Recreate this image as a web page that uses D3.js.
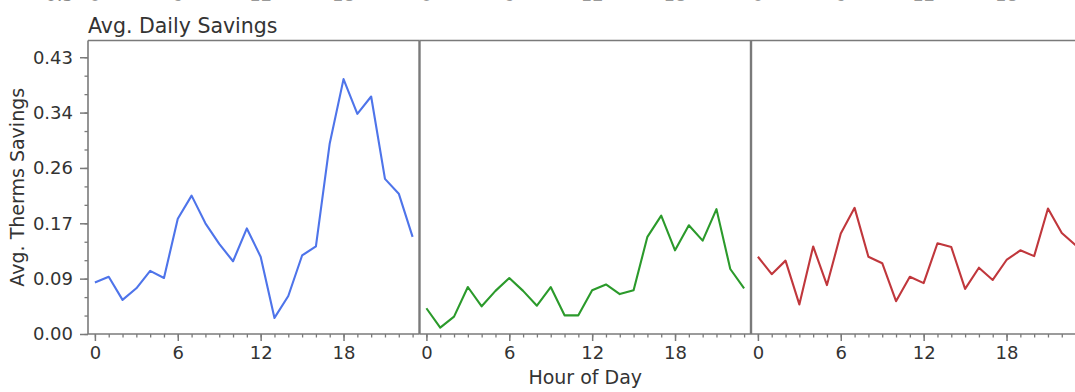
<!DOCTYPE html>
<html>
<head>
<meta charset="utf-8">
<script src="https://cdn.jsdelivr.net/npm/d3@7"></script>
<style>
  html, body { margin: 0; padding: 0; background: #fff; }
  svg { display: block; font-family: "DejaVu Sans", sans-serif; }
</style>
</head>
<body>
<svg id="chart" width="1075" height="392"></svg>
<script>
// ---- data ----
const hours = [0,1,2,3,4,5,6,7,8,9,10,11,12,13,14,15,16,17,18,19,20,21,22,23];
const blueSavings  = [0.080,0.089,0.053,0.071,0.098,0.087,0.179,0.215,0.172,0.140,0.113,0.164,0.120,0.025,0.059,0.122,0.136,0.296,0.396,0.342,0.369,0.241,0.218,0.151];
const greenSavings = [0.040,0.010,0.027,0.073,0.043,0.067,0.087,0.067,0.044,0.073,0.029,0.029,0.068,0.077,0.062,0.068,0.151,0.184,0.130,0.169,0.145,0.194,0.101,0.071];
const redSavings   = [0.120,0.093,0.114,0.046,0.136,0.076,0.156,0.196,0.120,0.110,0.051,0.089,0.079,0.141,0.135,0.070,0.103,0.084,0.115,0.130,0.121,0.195,0.157,0.138];
const seriesList = [blueSavings, greenSavings, redSavings];
const seriesColors = ["#4e74ea", "#2b9a2b", "#c0373c"];
const yTickValues = [0, 0.086, 0.172, 0.258, 0.344, 0.43];
const yTickLabels = ["0.00", "0.09", "0.17", "0.26", "0.34", "0.43"];
const xTickValues = [0, 6, 12, 18];
const chartTitle = "Avg. Daily Savings";
const xAxisTitle = "Hour of Day";
const yAxisTitle = "Avg. Therms Savings";
const clippedAboveLabel = "0.5";

// ---- layout ----
const svg = d3.select("#chart");
const plotTop = 40.5, plotBottom = 334;
const panelLefts = [88, 419.5, 751];
const panelWidth = 331.5;
const spine = "#7a7a7a";
const textColor = "#333";

const y = d3.scaleLinear().domain([0, 0.456]).range([plotBottom, plotTop]);

// remnants of the chart above (clipped at the top edge)
svg.append("text").attr("x", 74).attr("y", 1).attr("text-anchor", "end")
  .attr("font-size", 18).attr("fill", "#888").text(clippedAboveLabel);

panelLefts.forEach((px, i) => {
  const x = d3.scaleLinear().domain([-0.5, 23.5]).range([px, px + panelWidth]);

  // clipped tick labels of the chart above
  svg.append("g").selectAll("text").data(xTickValues).join("text")
    .attr("x", d => x(d)).attr("y", 1).attr("text-anchor", "middle")
    .attr("font-size", 18).attr("fill", "#999").text(d => d);

  // line
  const line = d3.line().x((d, j) => x(hours[j])).y(d => y(d));
  svg.append("path").datum(seriesList[i])
    .attr("fill", "none").attr("stroke", seriesColors[i])
    .attr("stroke-width", 2.1).attr("stroke-linejoin", "round")
    .attr("d", line);

  // x axis minor ticks
  const xMinor = d3.axisBottom(x).tickValues(hours).tickSize(3.5).tickFormat("");
  const gm = svg.append("g").attr("transform", `translate(0,${plotBottom})`).call(xMinor);
  gm.select(".domain").remove();
  gm.selectAll("line").attr("stroke", spine).attr("stroke-width", 1.3);

  // x axis major ticks
  const xMajor = d3.axisBottom(x).tickValues(xTickValues).tickSize(7).tickPadding(5).tickFormat(d3.format("d"));
  const gx = svg.append("g").attr("transform", `translate(0,${plotBottom})`).call(xMajor);
  gx.select(".domain").remove();
  gx.selectAll("line").attr("stroke", spine).attr("stroke-width", 1.5);
  gx.selectAll("text").attr("font-size", 18).attr("fill", textColor)
    .attr("font-family", "DejaVu Sans, sans-serif");

  // spines
  svg.append("line").attr("x1", px).attr("x2", px).attr("y1", plotTop).attr("y2", plotBottom)
    .attr("stroke", spine).attr("stroke-width", i === 0 ? 1.6 : 2.4);
  svg.append("line").attr("x1", px).attr("x2", px + panelWidth).attr("y1", plotTop).attr("y2", plotTop)
    .attr("stroke", spine).attr("stroke-width", 1.6);
  svg.append("line").attr("x1", px).attr("x2", px + panelWidth).attr("y1", plotBottom).attr("y2", plotBottom)
    .attr("stroke", spine).attr("stroke-width", 1.6);
});

// y axis minor ticks
const yMinorVals = d3.range(0, 16).map(k => k * 0.086 / 3).filter(v => v <= 0.456);
const gym = svg.append("g").attr("transform", `translate(${panelLefts[0]},0)`)
  .call(d3.axisLeft(y).tickValues(yMinorVals).tickSize(3.5).tickFormat(""));
gym.select(".domain").remove();
gym.selectAll("line").attr("stroke", spine).attr("stroke-width", 1.3);

// y axis major ticks
const gy = svg.append("g").attr("transform", `translate(${panelLefts[0]},0)`)
  .call(d3.axisLeft(y).tickValues(yTickValues).tickSize(8).tickPadding(7)
    .tickFormat((d, k) => yTickLabels[k]));
gy.select(".domain").remove();
gy.selectAll("line").attr("stroke", spine).attr("stroke-width", 1.5);
gy.selectAll("text").attr("font-size", 18).attr("fill", textColor)
  .attr("font-family", "DejaVu Sans, sans-serif");

// titles
svg.append("text").attr("x", panelLefts[0]).attr("y", 33)
  .attr("font-size", 20.5).attr("fill", textColor).text(chartTitle);

svg.append("text").attr("x", panelLefts[1] + panelWidth / 2).attr("y", 384)
  .attr("text-anchor", "middle").attr("font-size", 19).attr("fill", textColor).text(xAxisTitle);

svg.append("text")
  .attr("transform", `translate(24,${(plotTop + plotBottom) / 2}) rotate(-90)`)
  .attr("text-anchor", "middle").attr("font-size", 19).attr("fill", textColor).text(yAxisTitle);
</script>
</body>
</html>
